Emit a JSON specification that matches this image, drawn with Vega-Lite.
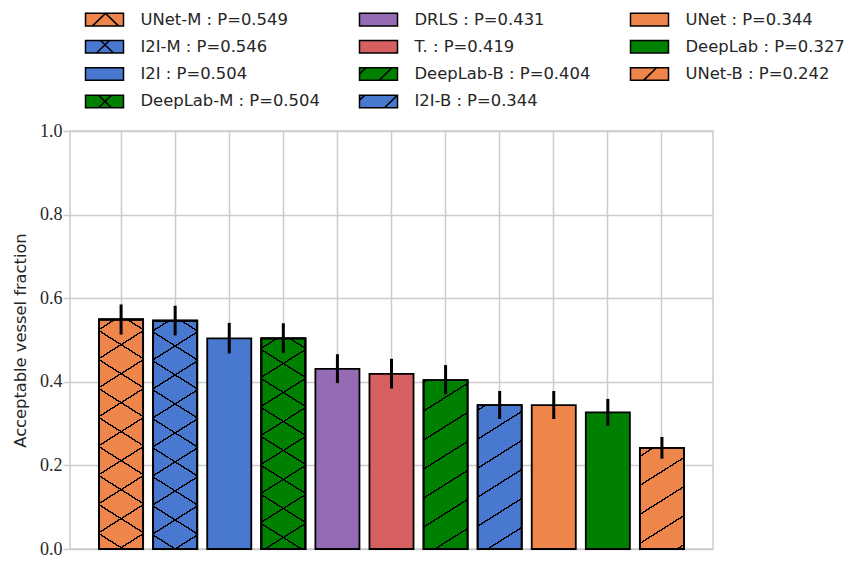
{
  "$schema": "https://vega.github.io/schema/vega-lite/v6.json",
  "autosize": {"type": "none"},
  "padding": {"left": 70, "top": 131, "right": 136, "bottom": 13},
  "width": 643,
  "height": 418,
  "background": "white",
  "config": {
    "view": {"stroke": "#cccccc", "strokeWidth": 1.5},
    "axis": {"gridColor": "#cccccc", "gridWidth": 1.5},
    "axisY": {
      "labelFont": "Liberation Serif, DejaVu Serif, serif", "labelFontSize": 18, "labelColor": "#262626", "labelPadding": 1,
      "tickColor": "#cccccc", "tickSize": 7, "tickWidth": 1.5, "domain": false, "grid": true,
      "titleFont": "DejaVu Sans", "titleFontSize": 16.3, "titleFontWeight": "normal", "titleColor": "#262626", "titlePadding": 11
    }
  },
  "data": {
    "values": [
      {"model": "UNet-M", "label": "UNet-M : P=0.549", "value": 0.549, "lo": 0.513, "hi": 0.585},
      {"model": "I2I-M", "label": "I2I-M : P=0.546", "value": 0.546, "lo": 0.511, "hi": 0.582},
      {"model": "I2I", "label": "I2I : P=0.504", "value": 0.504, "lo": 0.468, "hi": 0.541},
      {"model": "DeepLab-M", "label": "DeepLab-M : P=0.504", "value": 0.504, "lo": 0.469, "hi": 0.540},
      {"model": "DRLS", "label": "DRLS : P=0.431", "value": 0.431, "lo": 0.397, "hi": 0.466},
      {"model": "T.", "label": "T. : P=0.419", "value": 0.419, "lo": 0.384, "hi": 0.455},
      {"model": "DeepLab-B", "label": "DeepLab-B : P=0.404", "value": 0.404, "lo": 0.370, "hi": 0.440},
      {"model": "I2I-B", "label": "I2I-B : P=0.344", "value": 0.344, "lo": 0.311, "hi": 0.378},
      {"model": "UNet", "label": "UNet : P=0.344", "value": 0.344, "lo": 0.311, "hi": 0.378},
      {"model": "DeepLab", "label": "DeepLab : P=0.327", "value": 0.327, "lo": 0.295, "hi": 0.359},
      {"model": "UNet-B", "label": "UNet-B : P=0.242", "value": 0.242, "lo": 0.216, "hi": 0.268}
    ]
  },
  "encoding": {
    "x": {
      "field": "model", "type": "nominal",
      "scale": {"domain": ["UNet-M", "I2I-M", "I2I", "DeepLab-M", "DRLS", "T.", "DeepLab-B", "I2I-B", "UNet", "DeepLab", "UNet-B"], "paddingInner": 0.185, "paddingOuter": 0.537},
      "axis": {"labels": false, "ticks": false, "domain": false, "title": null, "grid": true, "zindex": 0}
    },
    "y": {
      "field": "value", "type": "quantitative",
      "scale": {"domain": [0, 1]},
      "axis": {"title": "Acceptable vessel fraction", "values": [0, 0.2, 0.4, 0.6, 0.8, 1.0], "format": ".1f", "zindex": 0, "labelFont": "Liberation Serif, DejaVu Serif, serif", "labelFontSize": 18}
    }
  },
  "layer": [
    {
      "mark": {"type": "bar", "stroke": "black", "strokeWidth": 1.8},
      "encoding": {
        "color": {
          "field": "label", "type": "nominal",
          "scale": {
            "domain": ["UNet-M : P=0.549", "I2I-M : P=0.546", "I2I : P=0.504", "DeepLab-M : P=0.504", "DRLS : P=0.431", "T. : P=0.419", "DeepLab-B : P=0.404", "I2I-B : P=0.344", "UNet : P=0.344", "DeepLab : P=0.327", "UNet-B : P=0.242"],
            "range": ["#EE854A", "#4878D0", "#4878D0", "#008000", "#956CB4", "#D65F5F", "#008000", "#4878D0", "#EE854A", "#008000", "#EE854A"]
          },
          "legend": {
            "title": null, "orient": "none", "legendX": 24, "legendY": -122, "columns": 3, "columnPadding": 36, "rowPadding": 7.3,
            "labelFont": "DejaVu Sans", "labelFontSize": 16.4, "labelColor": "#262626", "labelOffset": 25.5, "labelLimit": 400,
            "symbolSize": 361, "symbolStrokeWidth": 1.5, "symbolStrokeColor": "black", "symbolOpacity": 1,
            "encode": {
              "symbols": {
                "update": {
                  "shape": {"signal": "indexof(datum.value,'UNet-M')==0 ? 'M-2,-0.66H2V0.66H-2Z M-1.263,0.66L0.105,-0.66L1.474,0.66' : indexof(datum.value,'I2I-M')==0 ? 'M-2,-0.66H2V0.66H-2Z M-0.842,0.66L0.526,-0.66 M-0.421,-0.66L0.947,0.66' : indexof(datum.value,'DeepLab-M')==0 ? 'M-2,-0.66H2V0.66H-2Z M-0.632,0.66L0.737,-0.66 M-0.632,-0.66L0.737,0.66' : indexof(datum.value,'DeepLab-B')==0 ? 'M-2,-0.66H2V0.66H-2Z M-2,-0.026L-1.316,-0.66 M0.053,0.66L1.421,-0.66' : indexof(datum.value,'I2I-B')==0 ? 'M-2,-0.66H2V0.66H-2Z M-2,-0.132L-1.421,-0.66 M0.632,0.66L2,-0.66' : indexof(datum.value,'UNet-B')==0 ? 'M-2,-0.66H2V0.66H-2Z M-0.632,0.66L0.737,-0.66' : 'M-2,-0.66H2V0.66H-2Z'"},
                  "stroke": {"value": "black"},
                  "strokeWidth": {"value": 1.5}
                }
              }
            }
          }
        }
      }
    },
    {
      "transform": [{"filter": "datum.model === 'UNet-M'"}],
      "mark": {"type": "bar", "stroke": "black", "strokeWidth": 1.8, "fill": {"gradient": "linear", "x1": 0, "y1": -0.01961, "x2": 0.15072, "y2": 1.22587, "stops": [{"offset":0,"color":"rgba(0,0,0,0)"},{"offset":0.0472,"color":"rgba(0,0,0,0)"},{"offset":0.0472,"color":"black"},{"offset":0.0528,"color":"black"},{"offset":0.0528,"color":"rgba(0,0,0,0)"},{"offset":0.1472,"color":"rgba(0,0,0,0)"},{"offset":0.1472,"color":"black"},{"offset":0.1528,"color":"black"},{"offset":0.1528,"color":"rgba(0,0,0,0)"},{"offset":0.2472,"color":"rgba(0,0,0,0)"},{"offset":0.2472,"color":"black"},{"offset":0.2528,"color":"black"},{"offset":0.2528,"color":"rgba(0,0,0,0)"},{"offset":0.3472,"color":"rgba(0,0,0,0)"},{"offset":0.3472,"color":"black"},{"offset":0.3528,"color":"black"},{"offset":0.3528,"color":"rgba(0,0,0,0)"},{"offset":0.4472,"color":"rgba(0,0,0,0)"},{"offset":0.4472,"color":"black"},{"offset":0.4528,"color":"black"},{"offset":0.4528,"color":"rgba(0,0,0,0)"},{"offset":0.5472,"color":"rgba(0,0,0,0)"},{"offset":0.5472,"color":"black"},{"offset":0.5528,"color":"black"},{"offset":0.5528,"color":"rgba(0,0,0,0)"},{"offset":0.6472,"color":"rgba(0,0,0,0)"},{"offset":0.6472,"color":"black"},{"offset":0.6528,"color":"black"},{"offset":0.6528,"color":"rgba(0,0,0,0)"},{"offset":0.7472,"color":"rgba(0,0,0,0)"},{"offset":0.7472,"color":"black"},{"offset":0.7528,"color":"black"},{"offset":0.7528,"color":"rgba(0,0,0,0)"},{"offset":0.8472,"color":"rgba(0,0,0,0)"},{"offset":0.8472,"color":"black"},{"offset":0.8528,"color":"black"},{"offset":0.8528,"color":"rgba(0,0,0,0)"},{"offset":0.9472,"color":"rgba(0,0,0,0)"},{"offset":0.9472,"color":"black"},{"offset":0.9528,"color":"black"},{"offset":0.9528,"color":"rgba(0,0,0,0)"},{"offset":1,"color":"rgba(0,0,0,0)"}]}}
    },
    {
      "transform": [{"filter": "datum.model === 'UNet-M'"}],
      "mark": {"type": "bar", "stroke": "black", "strokeWidth": 1.8, "fill": {"gradient": "linear", "x1": 1, "y1": -0.01961, "x2": 0.84928, "y2": 1.22587, "stops": [{"offset":0,"color":"rgba(0,0,0,0)"},{"offset":0.0472,"color":"rgba(0,0,0,0)"},{"offset":0.0472,"color":"black"},{"offset":0.0528,"color":"black"},{"offset":0.0528,"color":"rgba(0,0,0,0)"},{"offset":0.1472,"color":"rgba(0,0,0,0)"},{"offset":0.1472,"color":"black"},{"offset":0.1528,"color":"black"},{"offset":0.1528,"color":"rgba(0,0,0,0)"},{"offset":0.2472,"color":"rgba(0,0,0,0)"},{"offset":0.2472,"color":"black"},{"offset":0.2528,"color":"black"},{"offset":0.2528,"color":"rgba(0,0,0,0)"},{"offset":0.3472,"color":"rgba(0,0,0,0)"},{"offset":0.3472,"color":"black"},{"offset":0.3528,"color":"black"},{"offset":0.3528,"color":"rgba(0,0,0,0)"},{"offset":0.4472,"color":"rgba(0,0,0,0)"},{"offset":0.4472,"color":"black"},{"offset":0.4528,"color":"black"},{"offset":0.4528,"color":"rgba(0,0,0,0)"},{"offset":0.5472,"color":"rgba(0,0,0,0)"},{"offset":0.5472,"color":"black"},{"offset":0.5528,"color":"black"},{"offset":0.5528,"color":"rgba(0,0,0,0)"},{"offset":0.6472,"color":"rgba(0,0,0,0)"},{"offset":0.6472,"color":"black"},{"offset":0.6528,"color":"black"},{"offset":0.6528,"color":"rgba(0,0,0,0)"},{"offset":0.7472,"color":"rgba(0,0,0,0)"},{"offset":0.7472,"color":"black"},{"offset":0.7528,"color":"black"},{"offset":0.7528,"color":"rgba(0,0,0,0)"},{"offset":0.8472,"color":"rgba(0,0,0,0)"},{"offset":0.8472,"color":"black"},{"offset":0.8528,"color":"black"},{"offset":0.8528,"color":"rgba(0,0,0,0)"},{"offset":0.9472,"color":"rgba(0,0,0,0)"},{"offset":0.9472,"color":"black"},{"offset":0.9528,"color":"black"},{"offset":0.9528,"color":"rgba(0,0,0,0)"},{"offset":1,"color":"rgba(0,0,0,0)"}]}}
    },
    {
      "transform": [{"filter": "datum.model === 'I2I-M'"}],
      "mark": {"type": "bar", "stroke": "black", "strokeWidth": 1.8, "fill": {"gradient": "linear", "x1": 0, "y1": -0.01972, "x2": 0.15236, "y2": 1.23241, "stops": [{"offset":0,"color":"rgba(0,0,0,0)"},{"offset":0.0472,"color":"rgba(0,0,0,0)"},{"offset":0.0472,"color":"black"},{"offset":0.0528,"color":"black"},{"offset":0.0528,"color":"rgba(0,0,0,0)"},{"offset":0.1472,"color":"rgba(0,0,0,0)"},{"offset":0.1472,"color":"black"},{"offset":0.1528,"color":"black"},{"offset":0.1528,"color":"rgba(0,0,0,0)"},{"offset":0.2472,"color":"rgba(0,0,0,0)"},{"offset":0.2472,"color":"black"},{"offset":0.2528,"color":"black"},{"offset":0.2528,"color":"rgba(0,0,0,0)"},{"offset":0.3472,"color":"rgba(0,0,0,0)"},{"offset":0.3472,"color":"black"},{"offset":0.3528,"color":"black"},{"offset":0.3528,"color":"rgba(0,0,0,0)"},{"offset":0.4472,"color":"rgba(0,0,0,0)"},{"offset":0.4472,"color":"black"},{"offset":0.4528,"color":"black"},{"offset":0.4528,"color":"rgba(0,0,0,0)"},{"offset":0.5472,"color":"rgba(0,0,0,0)"},{"offset":0.5472,"color":"black"},{"offset":0.5528,"color":"black"},{"offset":0.5528,"color":"rgba(0,0,0,0)"},{"offset":0.6472,"color":"rgba(0,0,0,0)"},{"offset":0.6472,"color":"black"},{"offset":0.6528,"color":"black"},{"offset":0.6528,"color":"rgba(0,0,0,0)"},{"offset":0.7472,"color":"rgba(0,0,0,0)"},{"offset":0.7472,"color":"black"},{"offset":0.7528,"color":"black"},{"offset":0.7528,"color":"rgba(0,0,0,0)"},{"offset":0.8472,"color":"rgba(0,0,0,0)"},{"offset":0.8472,"color":"black"},{"offset":0.8528,"color":"black"},{"offset":0.8528,"color":"rgba(0,0,0,0)"},{"offset":0.9472,"color":"rgba(0,0,0,0)"},{"offset":0.9472,"color":"black"},{"offset":0.9528,"color":"black"},{"offset":0.9528,"color":"rgba(0,0,0,0)"},{"offset":1,"color":"rgba(0,0,0,0)"}]}}
    },
    {
      "transform": [{"filter": "datum.model === 'I2I-M'"}],
      "mark": {"type": "bar", "stroke": "black", "strokeWidth": 1.8, "fill": {"gradient": "linear", "x1": 1, "y1": -0.01972, "x2": 0.84764, "y2": 1.23241, "stops": [{"offset":0,"color":"rgba(0,0,0,0)"},{"offset":0.0472,"color":"rgba(0,0,0,0)"},{"offset":0.0472,"color":"black"},{"offset":0.0528,"color":"black"},{"offset":0.0528,"color":"rgba(0,0,0,0)"},{"offset":0.1472,"color":"rgba(0,0,0,0)"},{"offset":0.1472,"color":"black"},{"offset":0.1528,"color":"black"},{"offset":0.1528,"color":"rgba(0,0,0,0)"},{"offset":0.2472,"color":"rgba(0,0,0,0)"},{"offset":0.2472,"color":"black"},{"offset":0.2528,"color":"black"},{"offset":0.2528,"color":"rgba(0,0,0,0)"},{"offset":0.3472,"color":"rgba(0,0,0,0)"},{"offset":0.3472,"color":"black"},{"offset":0.3528,"color":"black"},{"offset":0.3528,"color":"rgba(0,0,0,0)"},{"offset":0.4472,"color":"rgba(0,0,0,0)"},{"offset":0.4472,"color":"black"},{"offset":0.4528,"color":"black"},{"offset":0.4528,"color":"rgba(0,0,0,0)"},{"offset":0.5472,"color":"rgba(0,0,0,0)"},{"offset":0.5472,"color":"black"},{"offset":0.5528,"color":"black"},{"offset":0.5528,"color":"rgba(0,0,0,0)"},{"offset":0.6472,"color":"rgba(0,0,0,0)"},{"offset":0.6472,"color":"black"},{"offset":0.6528,"color":"black"},{"offset":0.6528,"color":"rgba(0,0,0,0)"},{"offset":0.7472,"color":"rgba(0,0,0,0)"},{"offset":0.7472,"color":"black"},{"offset":0.7528,"color":"black"},{"offset":0.7528,"color":"rgba(0,0,0,0)"},{"offset":0.8472,"color":"rgba(0,0,0,0)"},{"offset":0.8472,"color":"black"},{"offset":0.8528,"color":"black"},{"offset":0.8528,"color":"rgba(0,0,0,0)"},{"offset":0.9472,"color":"rgba(0,0,0,0)"},{"offset":0.9472,"color":"black"},{"offset":0.9528,"color":"black"},{"offset":0.9528,"color":"rgba(0,0,0,0)"},{"offset":1,"color":"rgba(0,0,0,0)"}]}}
    },
    {
      "transform": [{"filter": "datum.model === 'DeepLab-M'"}],
      "mark": {"type": "bar", "stroke": "black", "strokeWidth": 1.8, "fill": {"gradient": "linear", "x1": 0, "y1": -0.02136, "x2": 0.17835, "y2": 1.33168, "stops": [{"offset":0,"color":"rgba(0,0,0,0)"},{"offset":0.0472,"color":"rgba(0,0,0,0)"},{"offset":0.0472,"color":"black"},{"offset":0.0528,"color":"black"},{"offset":0.0528,"color":"rgba(0,0,0,0)"},{"offset":0.1472,"color":"rgba(0,0,0,0)"},{"offset":0.1472,"color":"black"},{"offset":0.1528,"color":"black"},{"offset":0.1528,"color":"rgba(0,0,0,0)"},{"offset":0.2472,"color":"rgba(0,0,0,0)"},{"offset":0.2472,"color":"black"},{"offset":0.2528,"color":"black"},{"offset":0.2528,"color":"rgba(0,0,0,0)"},{"offset":0.3472,"color":"rgba(0,0,0,0)"},{"offset":0.3472,"color":"black"},{"offset":0.3528,"color":"black"},{"offset":0.3528,"color":"rgba(0,0,0,0)"},{"offset":0.4472,"color":"rgba(0,0,0,0)"},{"offset":0.4472,"color":"black"},{"offset":0.4528,"color":"black"},{"offset":0.4528,"color":"rgba(0,0,0,0)"},{"offset":0.5472,"color":"rgba(0,0,0,0)"},{"offset":0.5472,"color":"black"},{"offset":0.5528,"color":"black"},{"offset":0.5528,"color":"rgba(0,0,0,0)"},{"offset":0.6472,"color":"rgba(0,0,0,0)"},{"offset":0.6472,"color":"black"},{"offset":0.6528,"color":"black"},{"offset":0.6528,"color":"rgba(0,0,0,0)"},{"offset":0.7472,"color":"rgba(0,0,0,0)"},{"offset":0.7472,"color":"black"},{"offset":0.7528,"color":"black"},{"offset":0.7528,"color":"rgba(0,0,0,0)"},{"offset":0.8472,"color":"rgba(0,0,0,0)"},{"offset":0.8472,"color":"black"},{"offset":0.8528,"color":"black"},{"offset":0.8528,"color":"rgba(0,0,0,0)"},{"offset":0.9472,"color":"rgba(0,0,0,0)"},{"offset":0.9472,"color":"black"},{"offset":0.9528,"color":"black"},{"offset":0.9528,"color":"rgba(0,0,0,0)"},{"offset":1,"color":"rgba(0,0,0,0)"}]}}
    },
    {
      "transform": [{"filter": "datum.model === 'DeepLab-M'"}],
      "mark": {"type": "bar", "stroke": "black", "strokeWidth": 1.8, "fill": {"gradient": "linear", "x1": 1, "y1": -0.02136, "x2": 0.82165, "y2": 1.33168, "stops": [{"offset":0,"color":"rgba(0,0,0,0)"},{"offset":0.0472,"color":"rgba(0,0,0,0)"},{"offset":0.0472,"color":"black"},{"offset":0.0528,"color":"black"},{"offset":0.0528,"color":"rgba(0,0,0,0)"},{"offset":0.1472,"color":"rgba(0,0,0,0)"},{"offset":0.1472,"color":"black"},{"offset":0.1528,"color":"black"},{"offset":0.1528,"color":"rgba(0,0,0,0)"},{"offset":0.2472,"color":"rgba(0,0,0,0)"},{"offset":0.2472,"color":"black"},{"offset":0.2528,"color":"black"},{"offset":0.2528,"color":"rgba(0,0,0,0)"},{"offset":0.3472,"color":"rgba(0,0,0,0)"},{"offset":0.3472,"color":"black"},{"offset":0.3528,"color":"black"},{"offset":0.3528,"color":"rgba(0,0,0,0)"},{"offset":0.4472,"color":"rgba(0,0,0,0)"},{"offset":0.4472,"color":"black"},{"offset":0.4528,"color":"black"},{"offset":0.4528,"color":"rgba(0,0,0,0)"},{"offset":0.5472,"color":"rgba(0,0,0,0)"},{"offset":0.5472,"color":"black"},{"offset":0.5528,"color":"black"},{"offset":0.5528,"color":"rgba(0,0,0,0)"},{"offset":0.6472,"color":"rgba(0,0,0,0)"},{"offset":0.6472,"color":"black"},{"offset":0.6528,"color":"black"},{"offset":0.6528,"color":"rgba(0,0,0,0)"},{"offset":0.7472,"color":"rgba(0,0,0,0)"},{"offset":0.7472,"color":"black"},{"offset":0.7528,"color":"black"},{"offset":0.7528,"color":"rgba(0,0,0,0)"},{"offset":0.8472,"color":"rgba(0,0,0,0)"},{"offset":0.8472,"color":"black"},{"offset":0.8528,"color":"black"},{"offset":0.8528,"color":"rgba(0,0,0,0)"},{"offset":0.9472,"color":"rgba(0,0,0,0)"},{"offset":0.9472,"color":"black"},{"offset":0.9528,"color":"black"},{"offset":0.9528,"color":"rgba(0,0,0,0)"},{"offset":1,"color":"rgba(0,0,0,0)"}]}}
    },
    {
      "transform": [{"filter": "datum.model === 'DeepLab-B'"}],
      "mark": {"type": "bar", "stroke": "black", "strokeWidth": 1.8, "fill": {"gradient": "linear", "x1": 0, "y1": -0.07402, "x2": 0.27496, "y2": 1.59803, "stops": [{"offset":0,"color":"rgba(0,0,0,0)"},{"offset":0.0472,"color":"rgba(0,0,0,0)"},{"offset":0.0472,"color":"black"},{"offset":0.0528,"color":"black"},{"offset":0.0528,"color":"rgba(0,0,0,0)"},{"offset":0.1472,"color":"rgba(0,0,0,0)"},{"offset":0.1472,"color":"black"},{"offset":0.1528,"color":"black"},{"offset":0.1528,"color":"rgba(0,0,0,0)"},{"offset":0.2472,"color":"rgba(0,0,0,0)"},{"offset":0.2472,"color":"black"},{"offset":0.2528,"color":"black"},{"offset":0.2528,"color":"rgba(0,0,0,0)"},{"offset":0.3472,"color":"rgba(0,0,0,0)"},{"offset":0.3472,"color":"black"},{"offset":0.3528,"color":"black"},{"offset":0.3528,"color":"rgba(0,0,0,0)"},{"offset":0.4472,"color":"rgba(0,0,0,0)"},{"offset":0.4472,"color":"black"},{"offset":0.4528,"color":"black"},{"offset":0.4528,"color":"rgba(0,0,0,0)"},{"offset":0.5472,"color":"rgba(0,0,0,0)"},{"offset":0.5472,"color":"black"},{"offset":0.5528,"color":"black"},{"offset":0.5528,"color":"rgba(0,0,0,0)"},{"offset":0.6472,"color":"rgba(0,0,0,0)"},{"offset":0.6472,"color":"black"},{"offset":0.6528,"color":"black"},{"offset":0.6528,"color":"rgba(0,0,0,0)"},{"offset":0.7472,"color":"rgba(0,0,0,0)"},{"offset":0.7472,"color":"black"},{"offset":0.7528,"color":"black"},{"offset":0.7528,"color":"rgba(0,0,0,0)"},{"offset":0.8472,"color":"rgba(0,0,0,0)"},{"offset":0.8472,"color":"black"},{"offset":0.8528,"color":"black"},{"offset":0.8528,"color":"rgba(0,0,0,0)"},{"offset":0.9472,"color":"rgba(0,0,0,0)"},{"offset":0.9472,"color":"black"},{"offset":0.9528,"color":"black"},{"offset":0.9528,"color":"rgba(0,0,0,0)"},{"offset":1,"color":"rgba(0,0,0,0)"}]}}
    },
    {
      "transform": [{"filter": "datum.model === 'I2I-B'"}],
      "mark": {"type": "bar", "stroke": "black", "strokeWidth": 1.8, "fill": {"gradient": "linear", "x1": 0, "y1": -0.06607, "x2": 0.3755, "y2": 1.87827, "stops": [{"offset":0,"color":"rgba(0,0,0,0)"},{"offset":0.0472,"color":"rgba(0,0,0,0)"},{"offset":0.0472,"color":"black"},{"offset":0.0528,"color":"black"},{"offset":0.0528,"color":"rgba(0,0,0,0)"},{"offset":0.1472,"color":"rgba(0,0,0,0)"},{"offset":0.1472,"color":"black"},{"offset":0.1528,"color":"black"},{"offset":0.1528,"color":"rgba(0,0,0,0)"},{"offset":0.2472,"color":"rgba(0,0,0,0)"},{"offset":0.2472,"color":"black"},{"offset":0.2528,"color":"black"},{"offset":0.2528,"color":"rgba(0,0,0,0)"},{"offset":0.3472,"color":"rgba(0,0,0,0)"},{"offset":0.3472,"color":"black"},{"offset":0.3528,"color":"black"},{"offset":0.3528,"color":"rgba(0,0,0,0)"},{"offset":0.4472,"color":"rgba(0,0,0,0)"},{"offset":0.4472,"color":"black"},{"offset":0.4528,"color":"black"},{"offset":0.4528,"color":"rgba(0,0,0,0)"},{"offset":0.5472,"color":"rgba(0,0,0,0)"},{"offset":0.5472,"color":"black"},{"offset":0.5528,"color":"black"},{"offset":0.5528,"color":"rgba(0,0,0,0)"},{"offset":0.6472,"color":"rgba(0,0,0,0)"},{"offset":0.6472,"color":"black"},{"offset":0.6528,"color":"black"},{"offset":0.6528,"color":"rgba(0,0,0,0)"},{"offset":0.7472,"color":"rgba(0,0,0,0)"},{"offset":0.7472,"color":"black"},{"offset":0.7528,"color":"black"},{"offset":0.7528,"color":"rgba(0,0,0,0)"},{"offset":0.8472,"color":"rgba(0,0,0,0)"},{"offset":0.8472,"color":"black"},{"offset":0.8528,"color":"black"},{"offset":0.8528,"color":"rgba(0,0,0,0)"},{"offset":0.9472,"color":"rgba(0,0,0,0)"},{"offset":0.9472,"color":"black"},{"offset":0.9528,"color":"black"},{"offset":0.9528,"color":"rgba(0,0,0,0)"},{"offset":1,"color":"rgba(0,0,0,0)"}]}}
    },
    {
      "transform": [{"filter": "datum.model === 'UNet-B'"}],
      "mark": {"type": "bar", "stroke": "black", "strokeWidth": 1.8, "fill": {"gradient": "linear", "x1": 0, "y1": -0.05931, "x2": 0.73188, "y2": 2.60665, "stops": [{"offset":0,"color":"rgba(0,0,0,0)"},{"offset":0.0472,"color":"rgba(0,0,0,0)"},{"offset":0.0472,"color":"black"},{"offset":0.0528,"color":"black"},{"offset":0.0528,"color":"rgba(0,0,0,0)"},{"offset":0.1472,"color":"rgba(0,0,0,0)"},{"offset":0.1472,"color":"black"},{"offset":0.1528,"color":"black"},{"offset":0.1528,"color":"rgba(0,0,0,0)"},{"offset":0.2472,"color":"rgba(0,0,0,0)"},{"offset":0.2472,"color":"black"},{"offset":0.2528,"color":"black"},{"offset":0.2528,"color":"rgba(0,0,0,0)"},{"offset":0.3472,"color":"rgba(0,0,0,0)"},{"offset":0.3472,"color":"black"},{"offset":0.3528,"color":"black"},{"offset":0.3528,"color":"rgba(0,0,0,0)"},{"offset":0.4472,"color":"rgba(0,0,0,0)"},{"offset":0.4472,"color":"black"},{"offset":0.4528,"color":"black"},{"offset":0.4528,"color":"rgba(0,0,0,0)"},{"offset":0.5472,"color":"rgba(0,0,0,0)"},{"offset":0.5472,"color":"black"},{"offset":0.5528,"color":"black"},{"offset":0.5528,"color":"rgba(0,0,0,0)"},{"offset":0.6472,"color":"rgba(0,0,0,0)"},{"offset":0.6472,"color":"black"},{"offset":0.6528,"color":"black"},{"offset":0.6528,"color":"rgba(0,0,0,0)"},{"offset":0.7472,"color":"rgba(0,0,0,0)"},{"offset":0.7472,"color":"black"},{"offset":0.7528,"color":"black"},{"offset":0.7528,"color":"rgba(0,0,0,0)"},{"offset":0.8472,"color":"rgba(0,0,0,0)"},{"offset":0.8472,"color":"black"},{"offset":0.8528,"color":"black"},{"offset":0.8528,"color":"rgba(0,0,0,0)"},{"offset":0.9472,"color":"rgba(0,0,0,0)"},{"offset":0.9472,"color":"black"},{"offset":0.9528,"color":"black"},{"offset":0.9528,"color":"rgba(0,0,0,0)"},{"offset":1,"color":"rgba(0,0,0,0)"}]}}
    },
    {
      "mark": {"type": "rule", "strokeWidth": 3, "color": "black"},
      "encoding": {
        "y": {"field": "lo", "type": "quantitative", "title": "Acceptable vessel fraction"},
        "y2": {"field": "hi"}
      }
    }
  ]
}
